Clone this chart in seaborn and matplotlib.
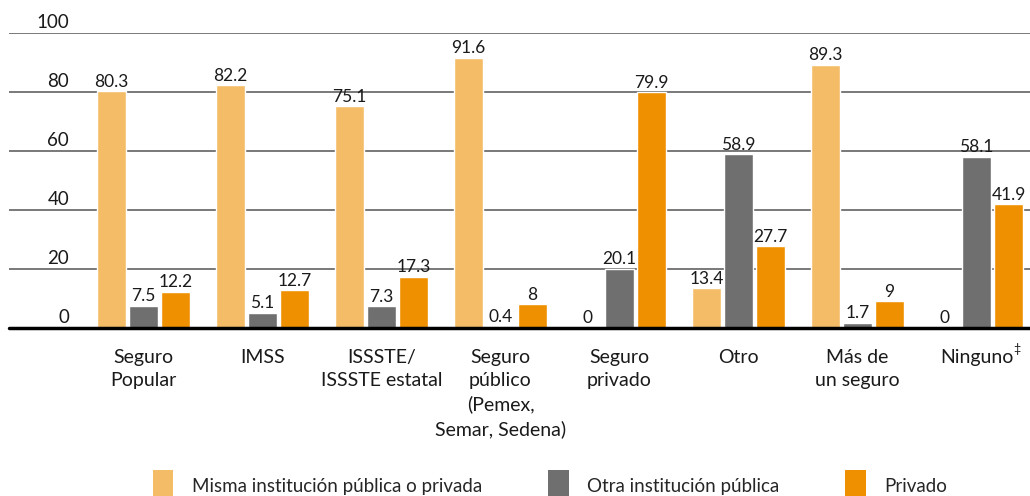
import pandas as pd
import seaborn as sns
import matplotlib.pyplot as plt
from matplotlib.patches import Patch
from matplotlib.ticker import FixedLocator

# datos
categorias = ['Seguro\nPopular', 'IMSS', 'ISSSTE/\nISSSTE estatal',
              'Seguro\npúblico\n(Pemex,\nSemar, Sedena)', 'Seguro\nprivado',
              'Otro', 'Más de\nun seguro', 'Ninguno‡']
series = ['Misma institución pública o privada', 'Otra institución pública', 'Privado']
misma = [80.3, 82.2, 75.1, 91.6, 0, 13.4, 89.3, 0]
otra = [7.5, 5.1, 7.3, 0.4, 20.1, 58.9, 1.7, 58.1]
privado = [12.2, 12.7, 17.3, 8, 79.9, 27.7, 9, 41.9]
colores = ['#F5BC67', '#6F6F70', '#EF9000']

df = pd.DataFrame({
    'cat': categorias * 3,
    'serie': [s for s in series for _ in categorias],
    'valor': misma + otra + privado,
})

sns.set_style("white")
plt.rcParams['font.family'] = ['Lato', 'DejaVu Sans']

fig = plt.figure(figsize=(10.3, 4.96), dpi=100)
ax = fig.add_axes([0.0087, 0.339, 0.9913, 0.5945])

sns.barplot(data=df, x='cat', y='valor', hue='serie', order=categorias,
            hue_order=series, palette=colores, saturation=1,
            width=0.81, gap=0.09, legend=False, ax=ax, zorder=3)

for cont in ax.containers:
    vals = [b.get_height() for b in cont]
    ax.bar_label(cont, labels=[f'{v:g}' for v in vals], padding=1,
                 fontsize=12.5, color='#1a1a1a')

ax.set_ylim(0, 100)
ax.set_xlim(-1.13, 7.45)

# lineas de cuadricula
for y in [20, 40, 60, 80, 100]:
    ax.axhline(y, color='#555555', lw=1.1, zorder=1)
ax.axhline(0, color='black', lw=2.5, zorder=4, clip_on=False)

# etiquetas del eje y
ax.set_yticks([])
for y in [0, 20, 40, 60, 80, 100]:
    ax.text(0.059, y + 0.6, str(y), transform=ax.get_yaxis_transform(),
            ha='right', va='bottom', fontsize=13.5, color='#1a1a1a', clip_on=False)

ax.set_xlabel('')
ax.set_ylabel('')
ax.set_xticks(range(len(categorias)))
ax.set_xticklabels([c.replace('‡', '') for c in categorias], linespacing=1.45)
ax.tick_params(axis='x', which='major', length=0, pad=15, labelsize=14,
               labelcolor='#1a1a1a')
ax.xaxis.set_minor_locator(FixedLocator([i - 0.5 for i in range(9)]))
ax.tick_params(axis='x', which='minor', length=6, width=1, color='black',
               direction='out')
for s in ax.spines.values():
    s.set_visible(False)

# superindice de Ninguno
ax.annotate('‡', xy=(len(categorias) - 1, 0), xycoords='data',
            xytext=(37, -15), textcoords='offset pixels', fontsize=9,
            ha='left', va='top', color='#1a1a1a', annotation_clip=False)

handles = [Patch(facecolor=c, edgecolor='none') for c in colores]
fig.legend(handles, series, loc='lower left', bbox_to_anchor=(0.132, -0.045),
           ncol=3, frameon=False, fontsize=13.5, handlelength=1.1,
           handleheight=2.2, columnspacing=3.5, handletextpad=1.0)

fig.savefig('out.png', dpi=100)
